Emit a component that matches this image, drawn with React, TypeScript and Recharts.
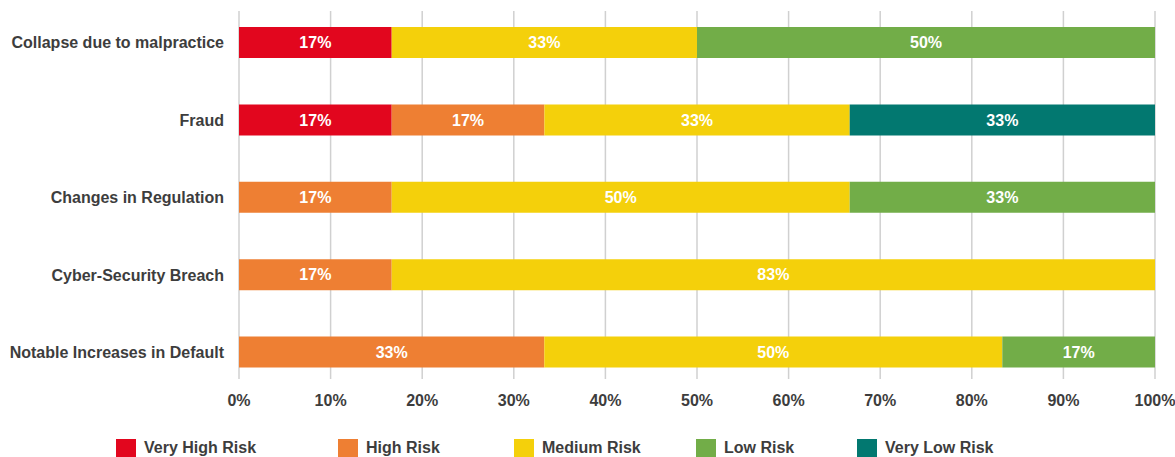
import React from "react";
import {
  BarChart,
  Bar,
  XAxis,
  YAxis,
  CartesianGrid,
  LabelList,
} from "recharts";

const categories = [
  "Collapse due to malpractice",
  "Fraud",
  "Changes in Regulation",
  "Cyber-Security Breach",
  "Notable Increases in Default",
];

const veryHigh = [16.67, 16.67, null, null, null];
const high = [null, 16.67, 16.67, 16.67, 33.33];
const medium = [33.33, 33.33, 50, 83.33, 50];
const low = [50, null, 33.33, null, 16.67];
const veryLow = [null, 33.33, null, null, null];

const xTicks = [0, 10, 20, 30, 40, 50, 60, 70, 80, 90, 100];

const series = [
  { key: "veryHigh", name: "Very High Risk", color: "#E2061E" },
  { key: "high", name: "High Risk", color: "#EE7F33" },
  { key: "medium", name: "Medium Risk", color: "#F4D00B" },
  { key: "low", name: "Low Risk", color: "#72AD48" },
  { key: "veryLow", name: "Very Low Risk", color: "#027870" },
];

const data = categories.map((name, i) => ({
  name,
  veryHigh: veryHigh[i],
  high: high[i],
  medium: medium[i],
  low: low[i],
  veryLow: veryLow[i],
}));

const FONT = '"Liberation Sans", Arial, Helvetica, sans-serif';
const TEXT = "#3d3d3d";

// legend squares sit at uneven spots in the original
const legendX = [116, 338, 514, 696, 857];

const gridLine = (p: any) => (
  <line
    key={`g-${p.index}-${p.x1}`}
    x1={p.x1}
    x2={p.x2}
    y1={11}
    y2={379}
    stroke="#d0d0d0"
    strokeWidth={1.5}
  />
);

const pct = (v: any) => (v ? `${Math.round(v)}%` : "");

export default function App() {
  return (
    <div
      style={{
        position: "absolute",
        left: 0,
        top: 0,
        width: 1175,
        height: 457,
        fontFamily: FONT,
        background: "#fff",
      }}
    >
      <BarChart
        width={1175}
        height={420}
        data={data}
        layout="vertical"
        margin={{ top: 4, right: 20, left: 0, bottom: 0 }}
      >
        <CartesianGrid horizontal={false} vertical={gridLine} />
        <XAxis
          type="number"
          domain={[0, 100]}
          ticks={xTicks}
          tickFormatter={(v) => `${v}%`}
          axisLine={false}
          tickLine={false}
          tickSize={0}
          tickMargin={4}
          height={29}
          interval={0}
          tick={{ fill: TEXT, fontSize: 16, fontWeight: 700, fontFamily: FONT }}
        />
        <YAxis
          type="category"
          dataKey="name"
          width={239}
          axisLine={false}
          tickLine={false}
          tickSize={0}
          tickMargin={15}
          tick={{ fill: TEXT, fontSize: 16, fontWeight: 700, fontFamily: FONT }}
        />
        {series.map((s) => (
          <Bar
            key={s.key}
            dataKey={s.key}
            name={s.name}
            stackId="risk"
            fill={s.color}
            barSize={31}
            isAnimationActive={false}
          >
            <LabelList
              dataKey={s.key}
              position="center"
              formatter={pct}
              fill="#fff"
              style={{ fontSize: 16, fontWeight: 700, fontFamily: FONT }}
            />
          </Bar>
        ))}
      </BarChart>
      {series.map((s, i) => (
        <div
          key={s.key}
          style={{
            position: "absolute",
            left: legendX[i],
            top: 439,
            display: "flex",
            alignItems: "center",
            height: 18,
          }}
        >
          <span
            style={{
              display: "inline-block",
              width: 20,
              height: 18,
              background: s.color,
              marginRight: 8,
            }}
          />
          <span style={{ color: TEXT, fontSize: 16, fontWeight: 700 }}>
            {s.name}
          </span>
        </div>
      ))}
    </div>
  );
}
